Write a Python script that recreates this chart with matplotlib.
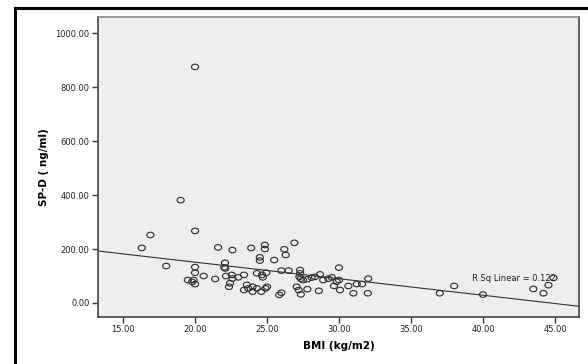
import numpy as np
import matplotlib
matplotlib.use("Agg")
import matplotlib.pyplot as plt
from matplotlib.lines import Line2D
from matplotlib.path import Path

# ==========================
# DATA
# ==========================

bmi = [
    16.3, 16.9, 18.0, 19.0, 20.0, 20.0, 20.0, 20.0, 19.5, 19.8,
    20.0, 19.9, 20.6, 21.4, 21.6, 22.6, 23.9, 22.08, 22.03, 22.1,
    22.15, 22.55, 22.6, 23.0, 23.4, 22.43, 22.36, 23.6, 23.7, 23.4,
    24.0, 24.3, 24.0, 24.5, 24.5, 24.3, 24.65, 24.7, 24.6, 24.85,
    24.85, 24.95, 25.0, 24.9, 25.5, 26.0, 25.85, 26.0, 26.2, 26.3,
    26.5, 26.9, 27.06, 27.3, 27.3, 27.25, 27.35, 27.5, 27.2, 27.35,
    27.8, 27.8, 28.1, 28.33, 28.6, 28.68, 28.9, 29.26, 29.5, 29.65,
    29.84, 30.0, 30.0, 30.07, 30.65, 31.0, 31.23, 31.6, 32.03, 32.0,
    37.0, 38.0, 40.0, 43.5, 44.2, 44.55, 44.9,
]

spd = [
    204, 252, 137, 381, 875, 267, 133, 112, 85, 78,
    70, 85, 100, 89, 206, 196, 204, 149, 132, 128,
    100, 104, 91, 95, 104, 73, 60, 67, 54, 48,
    42, 54, 60, 169, 157, 110, 104, 95, 42, 215,
    200, 112, 60, 54, 159, 120, 30, 38, 199, 178,
    120, 223, 60, 122, 110, 97, 90, 85, 48, 32,
    88, 51, 94, 97, 45, 106, 85, 90, 95, 63,
    79, 131, 85, 48, 63, 36, 70, 70, 90, 36,
    36, 63, 31, 52, 36, 66, 93,
]

r_sq_label = "R Sq Linear = 0.122"
x_ticks = [15, 20, 25, 30, 35, 40, 45]
y_ticks = [0, 200, 400, 600, 800, 1000]

# ==========================
# PLOT
# ==========================

fig = plt.figure(figsize=(5.88, 3.64), dpi=100)
fig.patch.set_facecolor("white")

# outer black frame (cut at right and bottom)
fig.add_artist(Line2D([15 / 588, 1.0], [1 - 8 / 364, 1 - 8 / 364],
                      color="black", lw=2.2, transform=fig.transFigure))
fig.add_artist(Line2D([15 / 588, 15 / 588], [0.0, 1 - 8 / 364],
                      color="black", lw=2.2, transform=fig.transFigure))

ax = fig.add_axes([98 / 588, 1 - 317 / 364, 481 / 588, 300 / 364])
ax.set_facecolor("#eeeeee")

# slightly flattened circle, like the SPSS marker
circ = Path.unit_circle()
ellipse = Path(circ.vertices * np.array([1.0, 0.78]), circ.codes)

ax.scatter(bmi, spd, s=26, marker=ellipse, facecolors="none",
           edgecolors="#333333", linewidths=0.85, zorder=3)

xlim = (13.26, 46.67)
coef = np.polyfit(bmi, spd, 1)
xs = np.array(xlim)
ax.plot(xs, np.polyval(coef, xs), color="#333333", lw=0.8, zorder=2)

ax.text(39.24, 92, r_sq_label, fontsize=6, color="#222222",
        va="center", ha="left", zorder=4)

ax.set_xlim(*xlim)
ax.set_ylim(-52, 1060)
ax.set_xticks(x_ticks)
ax.set_yticks(y_ticks)
ax.set_xticklabels([f"{v:.2f}" for v in x_ticks])
ax.set_yticklabels([f"{v:.2f}" for v in y_ticks])
ax.tick_params(direction="out", length=4, width=1, color="#333333",
               labelsize=6, labelcolor="#222222", pad=2)

for side in ["left", "bottom", "right", "top"]:
    ax.spines[side].set_color("#444444")
    ax.spines[side].set_linewidth(1.2)
ax.spines["top"].set_color("#888888")

ax.set_xlabel("BMI (kg/m2)", fontsize=7.5, fontweight="bold", labelpad=5)
ax.set_ylabel("SP-D ( ng/ml)", fontsize=7.5, fontweight="bold", labelpad=5)

fig.savefig("out.png", dpi=100)
